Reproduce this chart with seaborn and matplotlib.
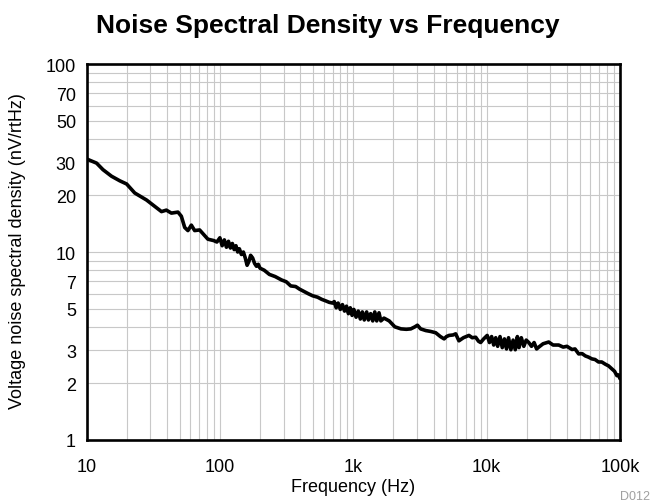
import matplotlib
matplotlib.use("Agg")
import matplotlib.pyplot as plt
import seaborn as sns
import pandas as pd
import numpy as np
from matplotlib.ticker import FixedLocator, NullFormatter, LogLocator

# ---- data ----
freq_hz = [
    10, 10.3, 11.9, 13.3, 15.4, 17.8, 20, 23, 28.2, 36.5, 39.7, 43.3, 48.5, 51.4,
    54.5, 57.6, 61.1, 64.7, 70.5, 81.3, 90,
    95, 100, 104, 108, 112, 116, 120, 124, 128, 132, 136, 140, 145, 150, 155,
    160, 165, 170, 176, 182, 188, 194, 200,
    215, 235, 260, 290, 314, 340, 370, 395, 430, 460, 496, 540, 580, 620, 660, 700,
    720, 745, 770, 800, 830, 860, 890, 920, 950, 980, 1010, 1050, 1090, 1130,
    1170, 1210, 1260, 1300, 1350, 1400, 1450, 1500, 1560, 1610,
    1700, 1860, 2050, 2280, 2500, 2700, 2900, 3030, 3200, 3500, 3800, 4150,
    4500, 4800, 5000, 5230, 5600, 5860, 6200, 6700, 7370, 7800, 8280, 8700,
    9020, 9500,
    10100, 10500, 10900, 11300, 11700, 12100, 12600, 13100, 13600, 14100,
    14600, 15200, 15800, 16400, 17000, 17500, 18200, 19000, 19800, 20700,
    21700, 22700, 23700, 24600,
    26500, 29200, 31500, 34700, 37500, 40000, 43700, 46000, 49000, 52000,
    55000, 58000, 61600, 65000, 69000, 73000, 77600, 82000, 87000, 91000,
    94800, 97500, 100000,
]
noise_nv_rthz = [
    31.2, 31.0, 29.7, 27.4, 25.3, 23.9, 23.0, 20.6, 18.9, 16.4, 16.7, 16.1, 16.3, 15.5,
    13.5, 13.0, 13.9, 13.0, 13.1, 11.7, 11.5,
    11.3, 11.9, 10.8, 11.6, 10.6, 11.4, 10.5, 11.1, 10.3, 10.8, 10.0, 10.4, 9.7, 10.0, 9.3,
    8.5, 8.9, 9.6, 9.3, 8.7, 8.4, 8.6, 8.2,
    8.0, 7.6, 7.4, 7.1, 6.95, 6.6, 6.55, 6.35, 6.15, 6.0, 5.85, 5.75, 5.6, 5.5, 5.4, 5.35,
    5.45, 5.05, 5.35, 4.95, 5.25, 4.85, 5.15, 4.7, 5.05, 4.6, 4.95, 4.5, 4.85, 4.4,
    4.8, 4.35, 4.8, 4.35, 4.7, 4.3, 4.8, 4.3, 4.75, 4.3,
    4.45, 4.3, 4.0, 3.9, 3.88, 3.9, 4.0, 4.08, 3.9, 3.82, 3.78, 3.72,
    3.55, 3.45, 3.55, 3.6, 3.62, 3.67, 3.37, 3.5, 3.6, 3.5, 3.52, 3.35,
    3.3, 3.45,
    3.6, 3.3, 3.55, 3.2, 3.5, 3.15, 3.55, 3.1, 3.45, 3.05,
    3.5, 3.02, 3.4, 3.02, 3.55, 3.1, 3.5, 3.15, 3.4, 3.3,
    3.15, 3.3, 3.05, 3.12,
    3.25, 3.32, 3.2, 3.2, 3.12, 3.15, 3.03, 3.05, 2.87, 2.88,
    2.8, 2.76, 2.7, 2.68, 2.6, 2.6, 2.53, 2.48, 2.39, 2.32,
    2.2, 2.22, 2.12,
]
x_ticks = [10, 100, 1000, 10000, 100000]
x_tick_labels = ["10", "100", "1k", "10k", "100k"]
y_ticks = [1, 2, 3, 5, 7, 10, 20, 30, 50, 70, 100]
y_tick_labels = ["1", "2", "3", "5", "7", "10", "20", "30", "50", "70", "100"]

df = pd.DataFrame({"Frequency (Hz)": freq_hz, "NSD": noise_nv_rthz})

sns.set_style("white")
plt.rcParams["font.family"] = ["Liberation Sans", "DejaVu Sans"]

fig = plt.figure(figsize=(6.54, 5.02), dpi=100)
ax = fig.add_axes([86.5 / 654, 1 - 441 / 502, (620 - 86.5) / 654, (441 - 65) / 502])

sns.lineplot(data=df, x="Frequency (Hz)", y="NSD", sort=False, color="black",
             linewidth=2.6, ax=ax)

ax.set_xscale("log")
ax.set_yscale("log")
ax.set_xlim(10, 100000)
ax.set_ylim(1, 100)

ax.xaxis.set_major_locator(FixedLocator(x_ticks))
ax.set_xticklabels(x_tick_labels)
ax.xaxis.set_minor_locator(LogLocator(base=10, subs=np.arange(2, 10)))
ax.xaxis.set_minor_formatter(NullFormatter())
ax.yaxis.set_major_locator(FixedLocator(y_ticks))
ax.set_yticklabels(y_tick_labels)
ax.yaxis.set_minor_locator(LogLocator(base=10, subs=np.arange(2, 10)))
ax.yaxis.set_minor_formatter(NullFormatter())

ax.grid(True, which="both", color="#c8c8c8", linewidth=0.8)
ax.set_axisbelow(True)
ax.tick_params(axis="both", which="both", length=0, labelsize=13, colors="black")
ax.tick_params(axis="x", pad=13)
ax.tick_params(axis="y", pad=7.6)

for s in ax.spines.values():
    s.set_color("black")
    s.set_linewidth(1.9)
    s.set_visible(True)

ax.set_xlabel("Frequency (Hz)", fontsize=13, color="black")
ax.xaxis.set_label_coords(0.499, -0.101)
ax.set_ylabel("Voltage noise spectral density (nV/rtHz)", fontsize=13, color="black")
ax.yaxis.set_label_coords(-0.113, 0.505)

fig.text(327.5 / 654, 1 - 33.3 / 502, "Noise Spectral Density vs Frequency",
         ha="center", va="baseline", fontsize=19, fontweight="bold", color="black")
fig.text(650 / 654, 1.5 / 502, "D012", ha="right", va="baseline",
         fontsize=9, color="#a0a0a0")

fig.savefig("out.png", dpi=100)
